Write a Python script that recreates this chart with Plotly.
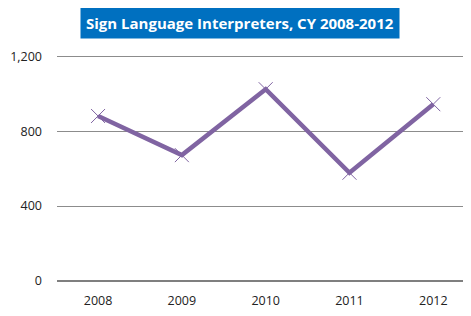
import plotly.graph_objects as go

years = ["2008", "2009", "2010", "2011", "2012"]
values = [881, 672, 1024, 578, 944]
y_ticks = [0, 400, 800, 1200]
y_tick_labels = ["0", "400", "800", "1,200"]
title_text = "Sign Language Interpreters, CY 2008-2012"

fig = go.Figure()
fig.add_trace(go.Scatter(
    x=years, y=values, mode="lines+markers",
    line=dict(color="#8064A2", width=4.5),
    marker=dict(symbol="x-thin", size=14, color="#8064A2",
                line=dict(color="#8064A2", width=1)),
    showlegend=False,
))

fig.update_layout(
    width=463, height=308,
    margin=dict(l=49, r=0, t=46, b=35, autoexpand=False),
    paper_bgcolor="white", plot_bgcolor="white",
    font=dict(family="Open Sans, Liberation Sans, sans-serif", size=12.5, color="#222222"),
    xaxis=dict(type="category", range=[-0.49, 4.45], showgrid=False, automargin=False,
               showline=False, zeroline=False, ticks="", ticklabelstandoff=10),
    yaxis=dict(range=[0, 1212], tickvals=y_ticks, ticktext=y_tick_labels, automargin=False,
               showgrid=True, gridcolor="#8c8c8c", gridwidth=1,
               zeroline=True, zerolinecolor="#7f7f7f", zerolinewidth=2,
               showline=False, ticks="", ticklabelstandoff=14),
    annotations=[dict(
        text="<b>" + title_text + "</b>",
        xref="paper", yref="paper", x=0.443, y=1.0, yshift=31.5,
        xanchor="center", yanchor="middle", showarrow=False,
        bgcolor="#0070C0", borderpad=5,
        font=dict(family="Open Sans, sans-serif", size=15, color="white"),
    )],
)

fig.write_html("out.html")
